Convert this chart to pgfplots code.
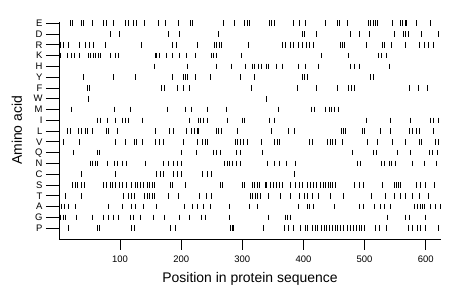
\documentclass[border=0pt]{standalone}
\usepackage{fontspec}
\setmainfont{Liberation Sans}
\usepackage{pgfplots}
\pgfplotsset{compat=1.18}
\pgfplotsset{bc/.style={black, only marks, mark=|, mark size=2.8bp, mark options={line width=0.75bp}}}
\begin{document}
\begin{tikzpicture}
\path[use as bounding box] (0,0) rectangle (460bp,299bp);
\begin{axis}[
  at={(59bp,60bp)}, anchor=south west,
  scale only axis, width=382bp, height=217.4bp,
  xmin=0, xmax=625, ymin=0, ymax=20.15,
  axis lines=left, axis line style={-, line width=0.8bp},
  xtick={100,200,300,400,500,600},
  ytick={1,2,3,4,5,6,7,8,9,10,11,12,13,14,15,16,17,18,19,20},
  yticklabels={P,G,A,T,S,C,N,Q,V,L,I,M,W,F,Y,H,K,R,D,E},
  tick align=outside,
  major tick length=13bp,
  xtick style={line width=0.8bp, black, /pgfplots/major tick length=10.5bp},
  ytick style={line width=0.8bp, black},
  /pgf/number format/assume math mode=true,
  ticklabel style={font=\fontsize{9.5}{11}\selectfont},
  label style={font=\fontsize{14}{16}\selectfont},
  xlabel={Position in protein sequence},
  ylabel={Amino acid},
  xlabel style={at={(axis description cs:0.5,0)}, anchor=base, yshift=-43bp},
  ylabel style={at={([xshift=-37bp]axis description cs:0,0.5)}, anchor=base},
  clip=false,
]
% E
\addplot[bc] coordinates {(19,20)(22,20)(37,20)(40,20)(54,20)(73,20)(78,20)(89,20)(109,20)(113,20)(121,20)(127,20)(140,20)(163,20)(174,20)(195,20)(215,20)(219,20)(269,20)(287,20)(304,20)(308,20)(311,20)(344,20)(348,20)(353,20)(384,20)(393,20)(403,20)(435,20)(456,20)(459,20)(472,20)(506,20)(510,20)(514,20)(518,20)(521,20)(545,20)(558,20)(562,20)(566,20)(569,20)(584,20)(608,20)};
% D
\addplot[bc] coordinates {(84,19)(98,19)(179,19)(197,19)(260,19)(398,19)(402,19)(421,19)(476,19)(492,19)(507,19)(548,19)(563,19)(567,19)(571,19)(593,19)(621,19)};
% R
\addplot[bc] coordinates {(3,18)(7,18)(16,18)(34,18)(43,18)(50,18)(57,18)(76,18)(134,18)(186,18)(192,18)(226,18)(255,18)(258,18)(262,18)(266,18)(310,18)(365,18)(371,18)(378,18)(384,18)(391,18)(398,18)(405,18)(409,18)(416,18)(460,18)(463,18)(467,18)(503,18)(529,18)(532,18)(543,18)(566,18)(590,18)(597,18)(604,18)(612,18)};
% K
\addplot[bc] coordinates {(3,17)(13,17)(20,17)(25,17)(33,17)(48,17)(52,17)(56,17)(60,17)(64,17)(67,17)(84,17)(93,17)(97,17)(157,17)(160,17)(164,17)(175,17)(185,17)(197,17)(209,17)(223,17)(250,17)(253,17)(257,17)(298,17)(430,17)(474,17)(523,17)(527,17)(535,17)};
% H
\addplot[bc] coordinates {(156,16)(210,16)(257,16)(282,16)(305,16)(316,16)(320,16)(327,16)(331,16)(339,16)(343,16)(355,16)(366,16)(391,16)(403,16)(424,16)(477,16)(483,16)(491,16)(540,16)};
% Y
\addplot[bc] coordinates {(40,15)(89,15)(125,15)(186,15)(203,15)(207,15)(210,15)(223,15)(248,15)(296,15)(320,15)(398,15)(402,15)(407,15)(510,15)(514,15)};
% F
\addplot[bc] coordinates {(46,14)(50,14)(167,14)(172,14)(194,14)(204,14)(213,14)(314,14)(390,14)(421,14)(455,14)(474,14)(478,14)(483,14)(573,14)(588,14)(603,14)};
% W
\addplot[bc] coordinates {(48,13)(339,13)};
% M
\addplot[bc] coordinates {(21,12)(90,12)(116,12)(177,12)(207,12)(216,12)(243,12)(274,12)(359,12)(413,12)(418,12)(436,12)(442,12)(445,12)(450,12)(457,12)};
% I
\addplot[bc] coordinates {(63,11)(67,11)(79,11)(92,11)(104,11)(108,11)(114,11)(136,11)(214,11)(228,11)(232,11)(237,11)(243,11)(276,11)(300,11)(304,11)(344,11)(353,11)(503,11)(542,11)(575,11)(608,11)(613,11)(620,11)};
% L
\addplot[bc] coordinates {(14,10)(18,10)(32,10)(36,10)(43,10)(47,10)(54,10)(77,10)(81,10)(95,10)(157,10)(181,10)(187,10)(209,10)(216,10)(221,10)(226,10)(228,10)(257,10)(261,10)(265,10)(292,10)(347,10)(376,10)(385,10)(462,10)(465,10)(469,10)(496,10)(500,10)(526,10)(542,10)(573,10)(578,10)(584,10)(589,10)(612,10)};
% V
\addplot[bc] coordinates {(7,9)(33,9)(93,9)(108,9)(124,9)(127,9)(136,9)(157,9)(165,9)(171,9)(204,9)(226,9)(234,9)(239,9)(243,9)(289,9)(292,9)(297,9)(302,9)(308,9)(331,9)(353,9)(357,9)(361,9)(409,9)(414,9)(439,9)(444,9)(448,9)(452,9)(463,9)(504,9)(521,9)(545,9)(567,9)(589,9)(593,9)(616,9)(620,9)};
% Q
\addplot[bc] coordinates {(24,8)(62,8)(66,8)(200,8)(225,8)(253,8)(257,8)(264,8)(291,8)(296,8)(333,8)(480,8)(514,8)(519,8)(554,8)(575,8)(606,8)(611,8)(619,8)};
% N
\addplot[bc] coordinates {(52,7)(55,7)(59,7)(63,7)(79,7)(90,7)(96,7)(103,7)(110,7)(142,7)(171,7)(179,7)(187,7)(193,7)(201,7)(271,7)(275,7)(279,7)(283,7)(290,7)(297,7)(341,7)(353,7)(361,7)(372,7)(386,7)(488,7)(493,7)(528,7)(533,7)(540,7)(544,7)(550,7)(578,7)(597,7)(618,7)};
% C
\addplot[bc] coordinates {(36,6)(92,6)(160,6)(166,6)(171,6)(187,6)(193,6)(201,6)(234,6)(242,6)(249,6)(385,6)};
% S
\addplot[bc] coordinates {(22,5)(26,5)(30,5)(37,5)(41,5)(73,5)(78,5)(84,5)(87,5)(93,5)(99,5)(103,5)(110,5)(119,5)(125,5)(128,5)(133,5)(138,5)(144,5)(148,5)(152,5)(156,5)(182,5)(186,5)(207,5)(264,5)(268,5)(300,5)(303,5)(316,5)(320,5)(324,5)(328,5)(337,5)(340,5)(346,5)(350,5)(355,5)(360,5)(366,5)(378,5)(387,5)(393,5)(398,5)(406,5)(411,5)(417,5)(421,5)(428,5)(432,5)(436,5)(441,5)(444,5)(448,5)(452,5)(484,5)(492,5)(498,5)(529,5)(548,5)(552,5)(555,5)(559,5)(584,5)(592,5)(600,5)(614,5)};
% T
\addplot[bc] coordinates {(11,4)(37,4)(105,4)(114,4)(119,4)(123,4)(139,4)(144,4)(148,4)(152,4)(156,4)(179,4)(196,4)(230,4)(241,4)(250,4)(313,4)(317,4)(321,4)(325,4)(330,4)(343,4)(363,4)(379,4)(393,4)(401,4)(406,4)(414,4)(425,4)(444,4)(466,4)(511,4)(534,4)(548,4)(559,4)(567,4)(578,4)(589,4)(605,4)};
% A
\addplot[bc] coordinates {(4,3)(9,3)(15,3)(26,3)(81,3)(103,3)(119,3)(125,3)(138,3)(160,3)(205,3)(219,3)(227,3)(237,3)(248,3)(278,3)(312,3)(325,3)(391,3)(406,3)(410,3)(416,3)(451,3)(491,3)(498,3)(516,3)(525,3)(533,3)(542,3)(581,3)(586,3)(591,3)(595,3)(598,3)(608,3)(615,3)(624,3)};
% G
\addplot[bc] coordinates {(1,2)(3,2)(7,2)(11,2)(29,2)(54,2)(73,2)(81,2)(89,2)(97,2)(116,2)(122,2)(133,2)(155,2)(172,2)(197,2)(214,2)(233,2)(239,2)(279,2)(343,2)(371,2)(374,2)(379,2)(538,2)(566,2)(573,2)(600,2)};
% P
\addplot[bc] coordinates {(15,1)(62,1)(66,1)(118,1)(123,1)(183,1)(190,1)(280,1)(283,1)(286,1)(334,1)(368,1)(376,1)(384,1)(395,1)(403,1)(407,1)(414,1)(419,1)(423,1)(429,1)(434,1)(438,1)(442,1)(448,1)(452,1)(456,1)(461,1)(465,1)(471,1)(477,1)(481,1)(486,1)(491,1)(495,1)(500,1)(518,1)(524,1)(536,1)(571,1)(578,1)(586,1)(592,1)(600,1)(620,1)};
\end{axis}
\end{tikzpicture}
\end{document}
